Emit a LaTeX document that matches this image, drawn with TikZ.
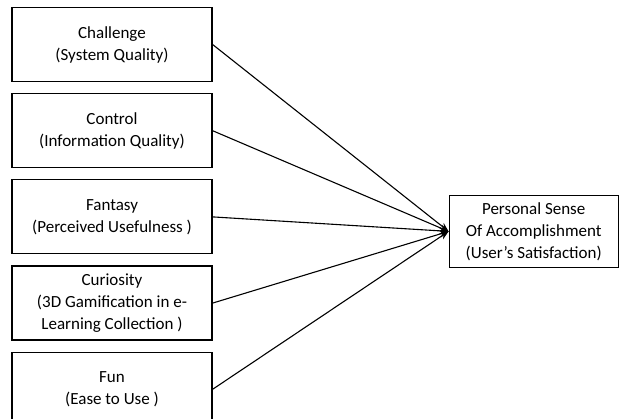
\documentclass[tikz,border=0pt]{standalone}
\usepackage{fontspec}
\setmainfont{Carlito}
\usetikzlibrary{arrows.meta,positioning}

\begin{document}
\begin{tikzpicture}[
  x=1pt,y=1pt,
  font=\fontsize{17}{22}\selectfont,
  node distance=11pt and 236pt,
  box/.style={draw,line width=1.2pt,align=center,minimum height=74pt,
              minimum width=200pt,inner sep=2pt},
  goal/.style={draw,line width=1.2pt,align=center,minimum height=72pt,
               minimum width=169pt,inner sep=2pt},
  arrow/.style={-{Stealth[length=9pt,width=7pt]},line width=1.1pt}
]
\useasboundingbox (0,0) rectangle (629,-419);
\node[box] (chal) at (112,-44.5) {Challenge\\(System Quality)};
\node[box,below=of chal] (ctrl) {Control\\(Information Quality)};
\node[box,below=of ctrl] (fant) {Fantasy\\(Perceived Usefulness )};
\node[box,below=of fant] (curi) {Curiosity\\(3D Gamification in e-\\Learning Collection )};
\node[box,below=of curi] (fun) {Fun\\(Ease to Use )};

\node[goal,right=of fant,yshift=-14.5pt] (pers)
 {Personal Sense\\Of Accomplishment\\(User’s Satisfaction)};

\draw[arrow] (chal.east) -- (pers.west);
\draw[arrow] (ctrl.east) -- (pers.west);
\draw[arrow] (fant.east) -- (pers.west);
\draw[arrow] (curi.east) -- (pers.west);
\draw[arrow] (fun.east) -- (pers.west);
\end{tikzpicture}
\end{document}
